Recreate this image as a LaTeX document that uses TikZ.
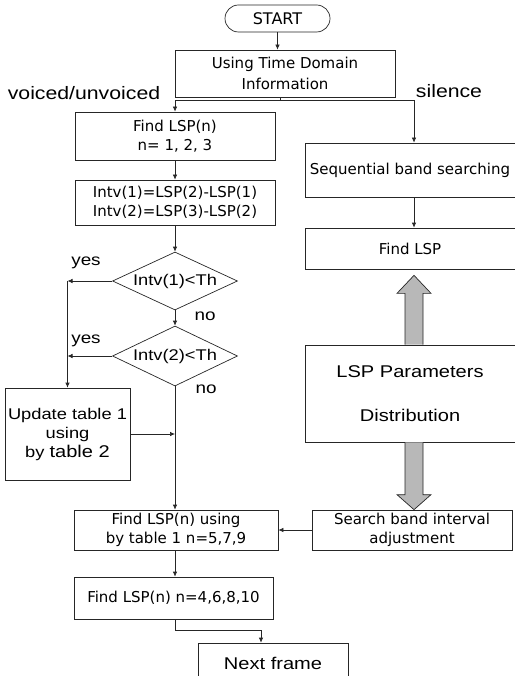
\documentclass[tikz,border=0pt]{standalone}
\usepackage{fontspec}
\setmainfont{DejaVu Sans}
\newfontfamily\gul[FakeStretch=1.18]{Liberation Sans}
\usetikzlibrary{arrows.meta,shapes.geometric,calc}

\begin{document}
\begin{tikzpicture}[x=1pt,y=-1pt,
  line/.style={draw=black!85, line width=0.7pt},
  arr/.style={line, -{Latex[length=5pt,width=4.5pt]}},
  box/.style={draw=black!85, line width=0.7pt, rectangle, inner sep=0pt,
    align=center, font=\fontsize{15}{19}\selectfont},
  decision/.style={draw=black!85, line width=0.7pt, diamond, aspect=2.15,
    inner sep=0pt, minimum width=125pt, minimum height=58pt,
    font=\gul\fontsize{15.5}{18}\selectfont},
  lbl/.style={inner sep=0pt, font=\gul\fontsize{18}{20}\selectfont},
  yn/.style={inner sep=0pt, font=\gul\fontsize{16}{18}\selectfont},
  bigarr/.style={draw=black!85, line width=0.7pt, fill=black!28},
]
\useasboundingbox (0,0) rectangle (514,676);

% terminal and the time-domain classifier
\node[box, rounded corners=13.5pt, minimum width=105pt, minimum height=27pt,
  font=\fontsize{16}{19}\selectfont] (start) at (277.5,18.5) {START};
\node[box, minimum width=220pt, minimum height=47pt,
  font=\fontsize{15}{21}\selectfont] (using) at (285,73.5)
  {Using Time Domain\\Information};
\node[lbl] (vu) at (84,93) {voiced/unvoiced};
\node[lbl] (sil) at (449,91) {silence};

% voiced / unvoiced branch
\node[box, minimum width=200pt, minimum height=48pt] (find1) at (175,136)
  {Find LSP(n)\\n= 1, 2, 3};
\node[box, minimum width=200pt, minimum height=45pt] (intv) at (175,202.5)
  {Intv(1)=LSP(2)-LSP(1)\\Intv(2)=LSP(3)-LSP(2)};
\node[decision] (d1) at (175,281) {Intv(1)<Th};
\node[decision, minimum height=60pt] (d2) at (175,356) {Intv(2)<Th};
\node[yn] (y1) at (86,263) {yes};
\node[yn] (y2) at (86,341) {yes};
\node[yn] (n1) at (205,316) {no};
\node[yn] (n2) at (206,389) {no};
\node[box, minimum width=125pt, minimum height=92pt,
  font=\gul\fontsize{15.5}{19}\selectfont] (update) at (67.5,434)
  {Update table 1\\using\\by {\fontsize{17}{19}\selectfont table 2}};
\node[box, minimum width=204pt, minimum height=40pt] (findusing) at (176,530)
  {Find LSP(n) using\\by table 1 n=5,7,9};
\node[box, minimum width=199pt, minimum height=42pt] (find4) at (173.5,598)
  {Find LSP(n) n=4,6,8,10};
\node[box, minimum width=150pt, minimum height=40pt,
  font=\gul\fontsize{17}{19}\selectfont] (next) at (273,663) {Next frame};

% silence branch
\node[box, minimum width=210pt, minimum height=54pt] (seq) at (410,170)
  {Sequential band searching};
\node[box, minimum width=210pt, minimum height=41pt] (findlsp) at (410,248.5)
  {Find LSP};
\node[box, minimum width=210pt, minimum height=97pt,
  font=\gul\fontsize{17}{44}\selectfont] (param) at (410,393.5)
  {LSP Parameters\\Distribution};
\node[box, minimum width=200pt, minimum height=40pt] (search) at (412,530)
  {Search band interval\\adjustment};

% helper points for the connectors
\coordinate (sp) at (280,100);
\coordinate (bx) at (414,0);
\coordinate (nx) at (261,630);

% connectors
\draw[arr] (start.south) -- (start.south |- using.north);
\draw[line] (using.south -| sp) -- (sp);
\draw[arr] (sp) -| (find1.north);
\draw[arr] (sp) -| (seq.north -| bx);
\draw[arr] (find1.south) -- (intv.north);
\draw[arr] (intv.south) -- (d1.north);
\draw[arr] (d1.south) -- (d2.north);
\draw[arr] (d1.west) -- (d1.west -| update.north);
\draw[arr] (d1.west -| update.north) -- (update.north);
\draw[arr] (d2.west) -- (d2.west -| update.north);
\draw[arr] (d2.south) -- (d2.south |- findusing.north);
\draw[arr] (update.east) -- (update.east -| d2.south);
\draw[arr] (seq.south -| bx) -- (findlsp.north -| bx);
\draw[arr] (search.west) -- (findusing.east);
\draw[arr] (findusing.south -| d2.south) -- (find4.north -| d2.south);
\draw[arr] (find4.south -| d2.south) |- (nx) -- (nx |- next.north);

% hollow block arrows to and from the parameter distribution
\path (bx |- param.north) coordinate (u0) (bx |- findlsp.south) coordinate (u1);
\draw[bigarr] ($(u0)+(-9,0)$) -- ($(u1)+(-9,24)$) -- ($(u1)+(-17,24)$)
  -- ($(u1)+(0,6)$) -- ($(u1)+(17,24)$) -- ($(u1)+(9,24)$) -- ($(u0)+(9,0)$);
\path (bx |- param.south) coordinate (w0) (bx |- search.north) coordinate (w1);
\draw[bigarr] ($(w0)+(-9,0)$) -- ($(w1)+(-9,-15)$) -- ($(w1)+(-17,-15)$)
  -- (w1) -- ($(w1)+(17,-15)$) -- ($(w1)+(9,-15)$) -- ($(w0)+(9,0)$);
\end{tikzpicture}
\end{document}
